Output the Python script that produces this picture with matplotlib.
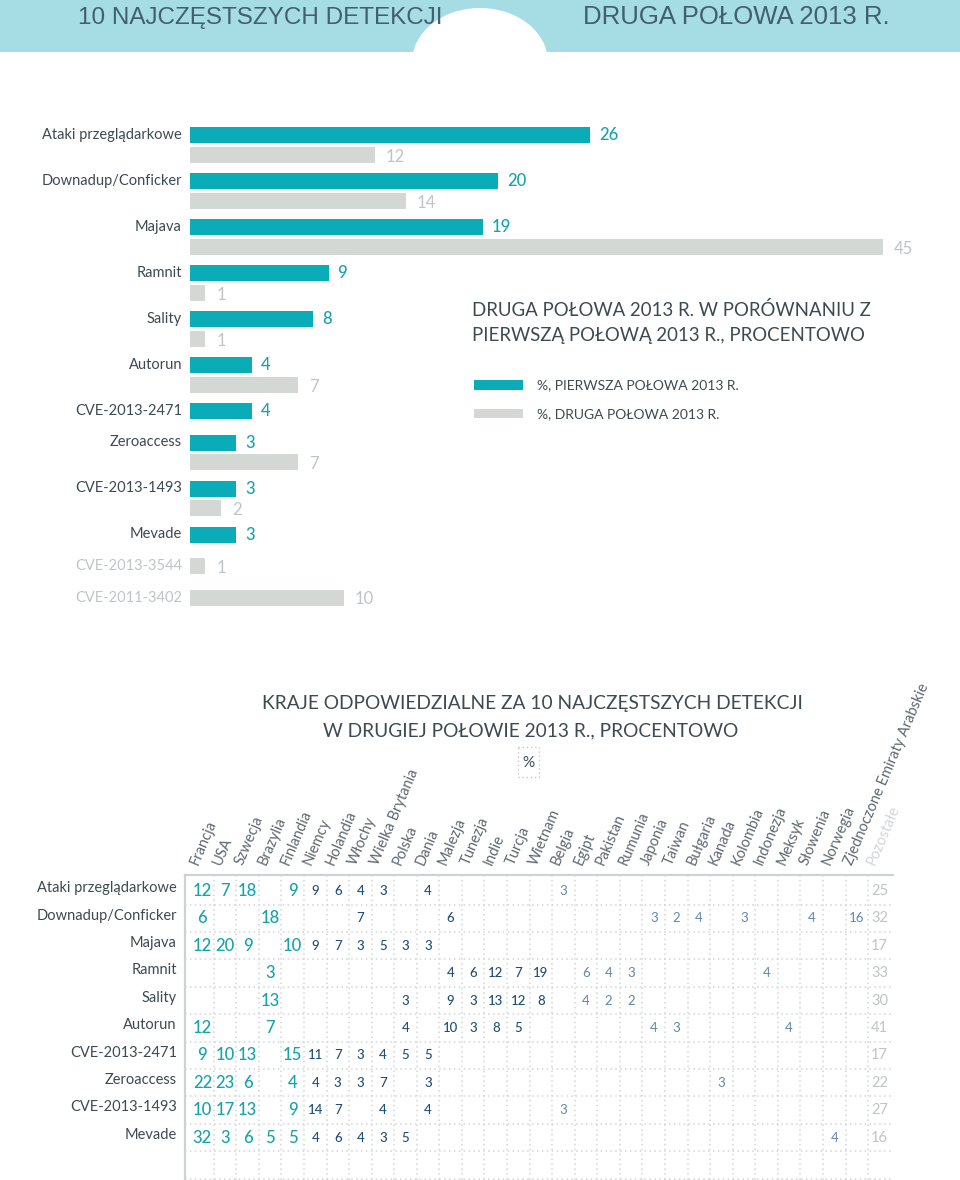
import numpy as np
import matplotlib
matplotlib.use("Agg")
import matplotlib.pyplot as plt
from matplotlib.patches import Rectangle, Ellipse

plt.rcParams['font.family'] = ['Lato', 'DejaVu Sans']

# ---- data: top bar chart (percent) ----
threats = ["Ataki przeglądarkowe", "Downadup/Conficker", "Majava", "Ramnit", "Sality",
           "Autorun", "CVE-2013-2471", "Zeroaccess", "CVE-2013-1493", "Mevade",
           "CVE-2013-3544", "CVE-2011-3402"]
first_half = [26, 20, 19, 9, 8, 4, 4, 3, 3, 3, None, None]
second_half = [12, 14, 45, 1, 1, 7, None, 7, 2, None, 1, 10]

# ---- data: country table (percent) ----
countries = ["Francja", "USA", "Szwecja", "Brazylia", "Finlandia", "Niemcy", "Holandia",
             "Włochy", "Wielka Brytania", "Polska", "Dania", "Malezja", "Tunezja", "Indie",
             "Turcja", "Wietnam", "Belgia", "Egipt", "Pakistan", "Rumunia", "Japonia",
             "Taiwan", "Bułgaria", "Kanada", "Kolombia", "Indonezja", "Meksyk", "Słowenia",
             "Norwegia", "Zjednoczone Emiraty Arabskie", "Pozostałe"]
table_rows = threats[:10]
shares = [
    {0: 12, 1: 7, 2: 18, 4: 9, 5: 9, 6: 6, 7: 4, 8: 3, 10: 4, 16: 3, 30: 25},
    {0: 6, 3: 18, 7: 7, 11: 6, 20: 3, 21: 2, 22: 4, 24: 3, 27: 4, 29: 16, 30: 32},
    {0: 12, 1: 20, 2: 9, 4: 10, 5: 9, 6: 7, 7: 3, 8: 5, 9: 3, 10: 3, 30: 17},
    {3: 3, 11: 4, 12: 6, 13: 12, 14: 7, 15: 19, 17: 6, 18: 4, 19: 3, 25: 4, 30: 33},
    {3: 13, 9: 3, 11: 9, 12: 3, 13: 13, 14: 12, 15: 8, 17: 4, 18: 2, 19: 2, 30: 30},
    {0: 12, 3: 7, 9: 4, 11: 10, 12: 3, 13: 8, 14: 5, 20: 4, 21: 3, 26: 4, 30: 41},
    {0: 9, 1: 10, 2: 13, 4: 15, 5: 11, 6: 7, 7: 3, 8: 4, 9: 5, 10: 5, 30: 17},
    {0: 22, 1: 23, 2: 6, 4: 4, 5: 4, 6: 3, 7: 3, 8: 7, 10: 3, 23: 3, 30: 22},
    {0: 10, 1: 17, 2: 13, 4: 9, 5: 14, 6: 7, 8: 4, 10: 4, 16: 3, 30: 27},
    {0: 32, 1: 3, 2: 6, 3: 5, 4: 5, 5: 4, 6: 6, 7: 4, 8: 3, 9: 5, 28: 4, 30: 16},
]

TEAL = '#0aacb8'
TEAL_TXT = '#17a3ab'
GREY_BAR = '#d3d8d5'
GREY_TXT = '#bfc4c6'
DARK = '#3d4a52'
NAVY = '#1f4f78'
STEEL = '#5f88ad'
HEAD_BG = '#a6dce4'
HEAD_TXT = '#41606b'

W, H = 960, 1180
fig = plt.figure(figsize=(W / 100, H / 100), dpi=100)


def px_axes(x0, y0, x1, y1):
    # axes placed in pixel coordinates (y from top)
    return fig.add_axes([x0 / W, 1 - y1 / H, (x1 - x0) / W, (y1 - y0) / H])


# overlay for header / titles
ov = px_axes(0, 0, W, H)
ov.set_xlim(0, W)
ov.set_ylim(H, 0)
ov.axis('off')
ov.add_patch(Rectangle((0, 0), W, 52, color=HEAD_BG, lw=0))
ov.add_patch(Ellipse((480, 62), 136, 108, color='white', lw=0))
title_font = ['Liberation Sans', 'DejaVu Sans']
ov.text(78, 24, "10 NAJCZĘSTSZYCH DETEKCJI", fontsize=17.5, color=HEAD_TXT,
        family=title_font, va='baseline', ha='left')
ov.text(583, 24, "DRUGA POŁOWA 2013 R.", fontsize=18.5, color=HEAD_TXT,
        family=title_font, va='baseline', ha='left')

ov.text(472, 310, "DRUGA POŁOWA 2013 R. W PORÓWNANIU Z", fontsize=13.4, color=DARK,
        va='center', ha='left')
ov.text(472, 336, "PIERWSZĄ POŁOWĄ 2013 R., PROCENTOWO", fontsize=13.4, color=DARK,
        va='center', ha='left')
ov.add_patch(Rectangle((474, 380), 49, 10, color=TEAL, lw=0))
ov.add_patch(Rectangle((474, 409), 49, 9, color=GREY_BAR, lw=0))
ov.text(537, 385, "%, PIERWSZA POŁOWA 2013 R.", fontsize=10, color=DARK, va='center')
ov.text(537, 414, "%, DRUGA POŁOWA 2013 R.", fontsize=10, color=DARK, va='center')

ov.text(532, 703, "KRAJE ODPOWIEDZIALNE ZA 10 NAJCZĘSTSZYCH DETEKCJI", fontsize=13.8,
        color=DARK, va='center', ha='center')
ov.text(531, 731, "W DRUGIEJ POŁOWIE 2013 R., PROCENTOWO", fontsize=13.8,
        color=DARK, va='center', ha='center')
ov.add_patch(Rectangle((518, 747), 21, 30, fill=False, ec='#c8c8c8', ls=(0, (1, 2)), lw=1))
ov.text(528.5, 763, "%", fontsize=11, color=DARK, va='center', ha='center')

# ---- bar chart ----
PX_PER_UNIT = 15.4
bx = px_axes(190, 115, W, 625)
bx.set_xlim(0, (W - 190) / PX_PER_UNIT)
bx.set_ylim(625, 115)
bx.axis('off')

bar_h = 16
y = 135.0
for name, a, b in zip(threats, first_half, second_half):
    lab_y = y
    lab_col = DARK if a is not None else GREY_TXT
    if a is not None:
        bx.barh(y, a, height=bar_h, color=TEAL, lw=0)
        bx.text(a + 9 / PX_PER_UNIT, y, str(a), color=TEAL_TXT, fontsize=12,
                fontweight='medium', va='center', ha='left')
    if b is not None:
        yb = y + 19.5 if a is not None else y
        bx.barh(yb, b, height=bar_h, color=GREY_BAR, lw=0)
        bx.text(b + 11 / PX_PER_UNIT, yb + 2, str(b), color=GREY_TXT, fontsize=12,
                va='center', ha='left')
    bx.text(-8 / PX_PER_UNIT, lab_y, name, color=lab_col, fontsize=10.5,
            va='center', ha='right', clip_on=False)
    y += 46 if (a is not None and b is not None) else 31.5

# ---- country table ----
tx = px_axes(185, 875, 893, H)
x_lo, x_hi = -0.77, 30.6
tx.set_xlim(x_lo, x_hi)
tx.set_ylim(10.55, -0.584)
tx.set_xticks([])
tx.set_yticks([])
for s in ['right', 'bottom']:
    tx.spines[s].set_visible(False)
for s in ['top', 'left']:
    tx.spines[s].set_color('#cfd2d3')
    tx.spines[s].set_linewidth(1.6)

for i in range(11):
    tx.plot([x_lo, 30.5], [i + 0.5, i + 0.5], color='#d2d5d6', lw=1.1,
            ls=(0, (1, 2.2)))
for k in range(30):
    tx.plot([k + 0.5, k + 0.5], [-0.584, 10.55], color='#d2d5d6', lw=1.1,
            ls=(0, (1, 2.2)))

for i, (name, row) in enumerate(zip(table_rows, shares)):
    tx.text(x_lo - 0.36, i - 0.1, name, color=DARK, fontsize=10.5,
            ha='right', va='center', clip_on=False)
    for k, v in row.items():
        if k <= 4:
            kw = dict(color=TEAL_TXT, fontsize=12, fontweight='medium')
        elif k <= 15:
            kw = dict(color=NAVY, fontsize=9.5, fontweight='medium')
        elif k <= 29:
            kw = dict(color=STEEL, fontsize=9.5)
        else:
            kw = dict(color=GREY_TXT, fontsize=10.5)
        tx.text(k, i, str(v), ha='center', va='center', **kw)

for k, c in enumerate(countries):
    col = '#d3d6d8' if k == len(countries) - 1 else '#5d6870'
    tx.text(k - 0.2, -0.91, c, rotation=67, rotation_mode='anchor', ha='left',
            va='baseline', fontsize=10.5, color=col, clip_on=False)

fig.savefig("out.png", dpi=100)
